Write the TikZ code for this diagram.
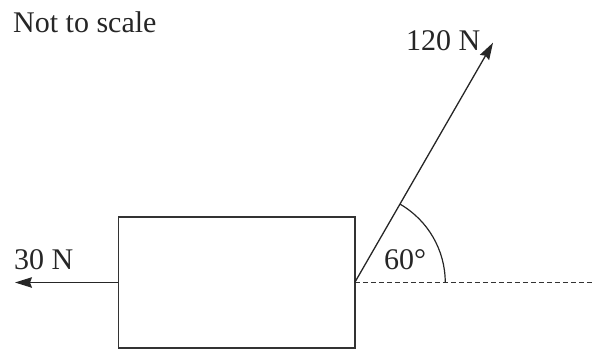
\documentclass[tikz,border=0pt]{standalone}
\usepackage{fontspec}
\setmainfont{Liberation Serif}
\usetikzlibrary{arrows.meta}
\tikzset{
  lbl/.style={anchor=base west,inner sep=0pt,font=\fontsize{30}{36}\selectfont,text=black!85},
  forcearrow/.style={line width=1.3pt,draw=black!85,-{Stealth[length=17pt,width=10.5pt,inset=2pt]}},
  boxshape/.style={draw=black!80,line width=1.5pt,minimum width=236.5pt,minimum height=131pt,inner sep=0pt,outer sep=0pt},
  refline/.style={draw=black!80,line width=1.2pt,dash pattern=on 5pt off 3pt},
  anglearc/.style={draw=black!85,line width=1.2pt}
}
\begin{document}
\begin{tikzpicture}[x=1pt,y=-1pt]
\useasboundingbox (0,0) rectangle (594,349);
\node[boxshape] (box) at (236.5,282.5) {};
\coordinate (ltip) at (15,282.5);
\coordinate (rtip) at (493,42.7);
\coordinate (dend) at (594,282.5);
\draw[refline] (box.east) -- (dend);
\draw[forcearrow] (box.west) -- (ltip);
\draw[forcearrow] (box.east) -- (rtip);
\draw[anglearc] (box.east) ++(90.5,0) arc[start angle=0,end angle=-60,radius=90.5];
\node[lbl] (nts) at (13,32.3) {Not to scale};
\node[lbl] (f30) at (14,269) {30 N};
\node[lbl] (ang) at (384,269) {60°};
\node[lbl] (f120) at (406,50) {120 N};
\end{tikzpicture}
\end{document}
